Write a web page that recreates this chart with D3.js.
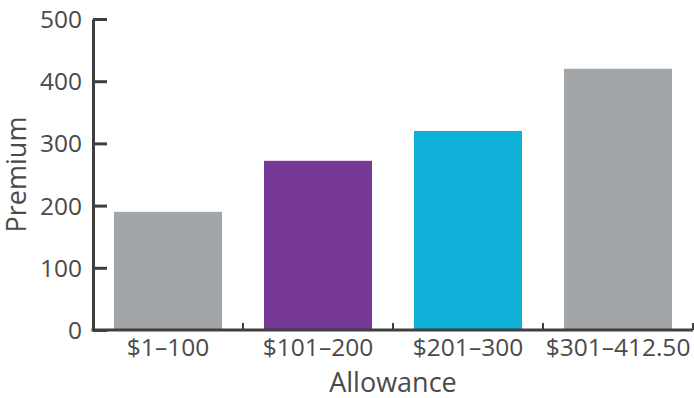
<!DOCTYPE html>
<html><head><meta charset="utf-8">
<script src="https://cdn.jsdelivr.net/npm/d3@7"></script>
<style>body{margin:0;background:#fff}svg{display:block}text{font-family:"Open Sans",sans-serif}</style>
</head><body><svg id="c" width="694" height="398"></svg>
<script>
const categories = ["$1–100", "$101–200", "$201–300", "$301–412.50"];
const premiums = [190, 272, 320, 420];
const barColors = ["#a3a6a9", "#763a96", "#0fb0d8", "#a3a6a9"];
const yTicks = [0, 100, 200, 300, 400, 500];

const svg = d3.select("#c");
const m = {l: 93, r: 1, t: 19, b: 68};
const W = 694, H = 398;
const x = d3.scaleBand().domain(categories).range([m.l, W - m.r]).padding(0);
const y = d3.scaleLinear().domain([0, 500]).range([H - m.b, m.t]);
const axisColor = "#3f3f3f", textColor = "#4a4a4a";

svg.append("g").selectAll("rect").data(premiums).join("rect")
  .attr("x", (d, i) => x(categories[i]) + x.bandwidth() * 0.14)
  .attr("width", x.bandwidth() * 0.72)
  .attr("y", d => y(d))
  .attr("height", d => y(0) - y(d))
  .attr("fill", (d, i) => barColors[i]);

// y axis
const ya = svg.append("g").attr("transform", `translate(${m.l},0)`)
  .call(d3.axisRight(y).tickValues(yTicks).tickSize(14).tickSizeOuter(0));
ya.select(".domain").attr("stroke", axisColor).attr("stroke-width", 3);
ya.selectAll(".tick line").attr("stroke", axisColor).attr("stroke-width", 3);
ya.selectAll(".tick text").attr("x", -11).attr("text-anchor", "end")
  .attr("fill", textColor).attr("font-size", 24.5).attr("dy", "0.35em");

// x axis
const xa = svg.append("g").attr("transform", `translate(0,${y(0)})`)
  .call(d3.axisBottom(x).tickSize(0).tickSizeOuter(0));
xa.select(".domain").attr("stroke", axisColor).attr("stroke-width", 3)
  .attr("d", `M${m.l - 1.5},0H${W - m.r}`);
xa.selectAll(".tick text").attr("y", 26).attr("dy", 0)
  .attr("fill", textColor).attr("font-size", 24.5);
// boundary ticks between bands
const bounds = categories.map(c => x(c) + x.bandwidth());
svg.append("g").selectAll("line").data(bounds).join("line")
  .attr("x1", d => d).attr("x2", d => d)
  .attr("y1", y(0) - 7).attr("y2", y(0))
  .attr("stroke", axisColor).attr("stroke-width", 2);

svg.append("text").attr("x", (m.l + W - m.r) / 2).attr("y", 392)
  .attr("text-anchor", "middle").attr("fill", textColor).attr("font-size", 27).text("Allowance");
svg.append("text").attr("transform", `translate(26,${(y(0) + y(500)) / 2}) rotate(-90)`)
  .attr("text-anchor", "middle").attr("fill", textColor).attr("font-size", 27).text("Premium");
</script></body></html>
